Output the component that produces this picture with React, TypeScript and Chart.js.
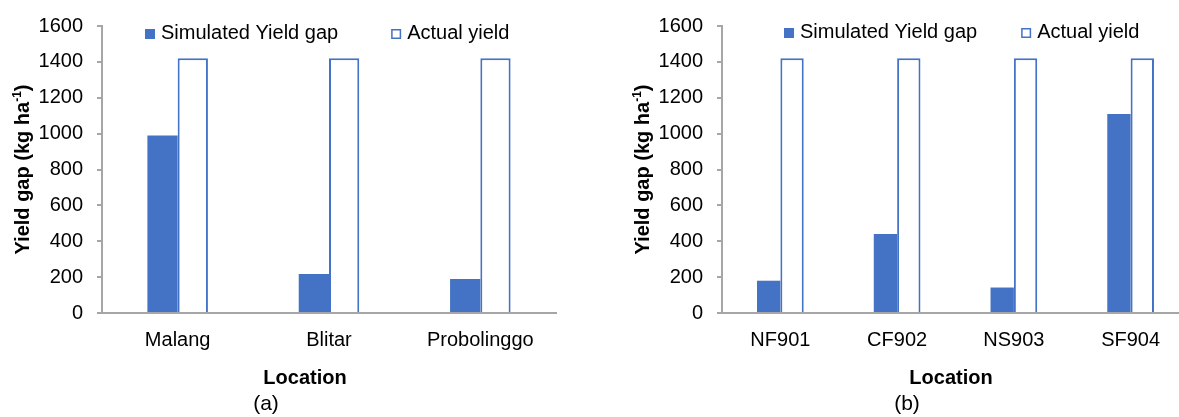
import React, { useEffect, useRef } from "react";
import { Chart, registerables } from "chart.js";

Chart.register(...registerables);

const FONT = "'Liberation Sans', Arial, Helvetica, sans-serif";

// Panel (a)
const locationsA = ["Malang", "Blitar", "Probolinggo"];
const simulatedGapA = [990, 218, 190];
const actualYieldA = [1420, 1420, 1420];

// Panel (b)
const locationsB = ["NF901", "CF902", "NS903", "SF904"];
const simulatedGapB = [180, 440, 142, 1110];
const actualYieldB = [1420, 1420, 1420, 1420];

const seriesNames = ["Simulated Yield gap", "Actual yield"];
const yMin = 0;
const yMax = 1600;
const yStep = 200;
const yTitleParts = ["Yield gap (kg ha", "-1", ")"];
const xTitle = "Location";
const panelLabels = ["(a)", "(b)"];

const BLUE = "#4472c4";
const AXIS = "#a6a6a6";

const decorPlugin = {
  id: "decor",
  afterDraw(chart: any, _args: any, o: any) {
    const { ctx, chartArea: area } = chart;
    ctx.save();
    // legend
    ctx.font = `20px ${FONT}`;
    ctx.textBaseline = "alphabetic";
    ctx.textAlign = "left";
    let x = o.legendX;
    chart.data.datasets.forEach((ds: any) => {
      const s = 10;
      const by = o.legendBoxY;
      if (ds.borderWidth > 0) {
        ctx.fillStyle = "#ffffff";
        ctx.fillRect(x, by, s, s);
        ctx.strokeStyle = ds.borderColor;
        ctx.lineWidth = 1.5;
        ctx.strokeRect(x + 0.75, by + 0.75, s - 1.5, s - 1.5);
      } else {
        ctx.fillStyle = ds.backgroundColor;
        ctx.fillRect(x, by, s, s);
      }
      ctx.fillStyle = "#000000";
      ctx.fillText(ds.label, x + s + 6, o.legendBaseline);
      x = x + s + 6 + ctx.measureText(ds.label).width + o.legendGap;
    });

    // x title
    ctx.font = `bold 20px ${FONT}`;
    ctx.textAlign = "center";
    ctx.fillText(o.xTitle, o.xTitleX, o.xTitleBaseline);

    // panel label
    ctx.font = `21px ${FONT}`;
    ctx.fillText(o.panel, o.panelX, o.panelBaseline);

    // y title with superscript
    const cy = (area.top + area.bottom) / 2;
    ctx.translate(o.yTitleX, cy);
    ctx.rotate(-Math.PI / 2);
    ctx.textAlign = "left";
    const mainF = `bold 20px ${FONT}`;
    const supF = `bold 12px ${FONT}`;
    ctx.font = mainF;
    const w1 = ctx.measureText(yTitleParts[0]).width;
    const w3 = ctx.measureText(yTitleParts[2]).width;
    ctx.font = supF;
    const w2 = ctx.measureText(yTitleParts[1]).width;
    const start = -(w1 + w2 + w3) / 2;
    ctx.font = mainF;
    ctx.fillText(yTitleParts[0], start, 7);
    ctx.font = supF;
    ctx.fillText(yTitleParts[1], start + w1, -1);
    ctx.font = mainF;
    ctx.fillText(yTitleParts[2], start + w1 + w2, 7);
    ctx.restore();
  },
};

function makeConfig(labels: string[], gap: number[], actual: number[], o: any): any {
  return {
    type: "bar",
    data: {
      labels,
      datasets: [
        { label: seriesNames[0], data: gap, backgroundColor: BLUE, borderWidth: 0 },
        { label: seriesNames[1], data: actual, backgroundColor: "#ffffff", borderColor: BLUE, borderWidth: 2 },
      ],
    },
    options: {
      responsive: false,
      animation: false,
      devicePixelRatio: 1,
      layout: { padding: { top: 25, right: o.padRight, left: 0, bottom: 0 } },
      datasets: { bar: { categoryPercentage: 0.4, barPercentage: 1.0 } },
      plugins: {
        legend: { display: false },
        tooltip: { enabled: false },
        decor: o.decor,
      },
      scales: {
        x: {
          grid: { display: true, drawOnChartArea: false, drawTicks: false },
          border: { display: true, color: AXIS, width: 2 },
          ticks: { color: "#000000", font: { family: FONT, size: 20 }, padding: 15, maxRotation: 0, autoSkip: false },
          afterFit: (s: any) => {
            s.height = 104;
          },
        },
        y: {
          min: yMin,
          max: yMax,
          ticks: {
            stepSize: yStep,
            color: "#000000",
            font: { family: FONT, size: 20 },
            padding: 14,
            callback: (v: any) => String(v),
          },
          grid: { display: true, drawOnChartArea: false, drawTicks: true, tickLength: 5, color: AXIS, lineWidth: 2 },
          border: { display: true, color: AXIS, width: 2 },
          afterFit: (s: any) => {
            s.width = o.yWidth;
          },
        },
      },
    },
    plugins: [decorPlugin],
  };
}

function Panel(props: { config: any; left: number; width: number }) {
  const ref = useRef<HTMLCanvasElement | null>(null);
  useEffect(() => {
    if (!ref.current) return;
    const chart = new Chart(ref.current, props.config);
    return () => chart.destroy();
  }, []);
  return (
    <div style={{ position: "absolute", left: props.left, top: 0, width: props.width, height: 417 }}>
      <canvas ref={ref} width={props.width} height={417} />
    </div>
  );
}

export default function App() {
  const cfgA = makeConfig(locationsA, simulatedGapA, actualYieldA, {
    padRight: 44,
    yWidth: 102,
    decor: {
      legendX: 145,
      legendGap: 53,
      legendBoxY: 29,
      legendBaseline: 39,
      xTitle,
      xTitleX: 305,
      xTitleBaseline: 384,
      panel: panelLabels[0],
      panelX: 266,
      panelBaseline: 410,
      yTitleX: 22,
    },
  });
  const cfgB = makeConfig(locationsB, simulatedGapB, actualYieldB, {
    padRight: 11,
    yWidth: 122,
    decor: {
      legendX: 184,
      legendGap: 44,
      legendBoxY: 28,
      legendBaseline: 38,
      xTitle,
      xTitleX: 351,
      xTitleBaseline: 384,
      panel: panelLabels[1],
      panelX: 307,
      panelBaseline: 410,
      yTitleX: 42,
    },
  });
  return (
    <div
      style={{
        position: "absolute",
        left: 0,
        top: 0,
        width: 1179,
        height: 417,
        overflow: "hidden",
        background: "#ffffff",
      }}
    >
      <Panel config={cfgA} left={0} width={600} />
      <Panel config={cfgB} left={600} width={600} />
    </div>
  );
}
